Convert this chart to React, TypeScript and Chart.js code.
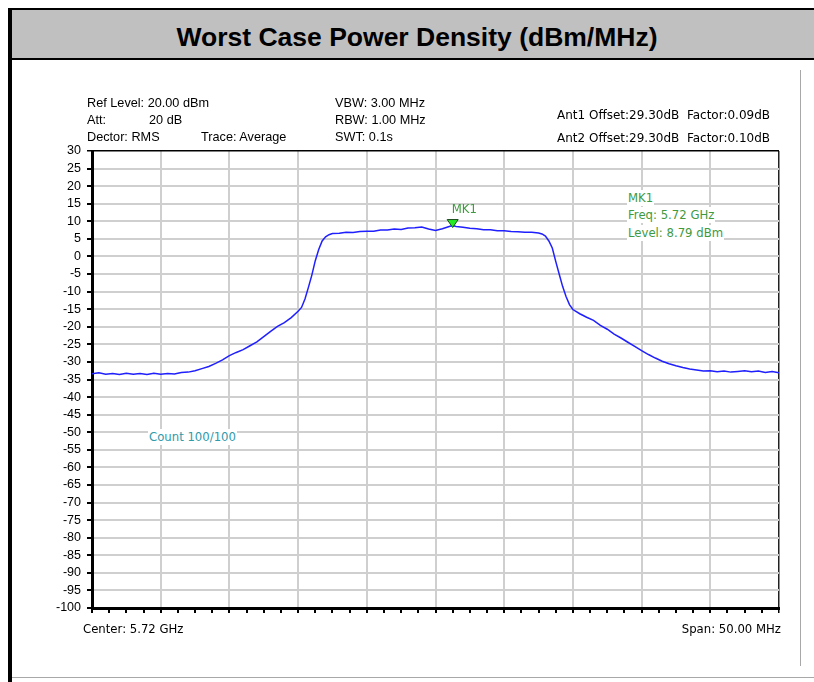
import React, { useEffect, useRef } from "react";
import { Chart, registerables } from "chart.js";

Chart.register(...registerables);

// ---- data -------------------------------------------------------------
const TITLE = "Worst Case Power Density (dBm/MHz)";
const CENTER_GHZ = 5.72;
const SPAN_MHZ = 50;
const Y_MIN = -100;
const Y_MAX = 30;
const Y_STEP = 5;

// frequency offset from centre (MHz)
const FREQ_OFFSET_MHZ = [
  -25, -24.5, -24, -23.5, -23, -22.5, -22, -21.5, -21, -20.5, -20, -19.5, -19, -18.5, -18,
  -17.5, -17, -16.5, -16, -15.5, -15, -14.5, -14, -13.5, -13, -12.5, -12, -11.5, -11, -10.5,
  -10, -9.75, -9.5, -9.25, -9, -8.75, -8.5, -8.25, -8, -7.75, -7.5, -7, -6.5, -6, -5.5, -5,
  -4.5, -4, -3.5, -3, -2.5, -2, -1.5, -1, -0.5, 0, 0.5, 1, 1.25, 1.5, 2, 2.5, 3, 3.5, 4, 4.5,
  5, 5.5, 6, 6.5, 7, 7.5, 7.75, 8, 8.25, 8.5, 8.75, 9, 9.25, 9.5, 9.75, 10, 10.5, 11, 11.5,
  12, 12.5, 13, 13.5, 14, 14.5, 15, 15.5, 16, 16.5, 17, 17.5, 18, 18.5, 19, 19.5, 20, 20.5,
  21, 21.5, 22, 22.5, 23, 23.5, 24, 24.5, 25,
];

// trace level (dBm)
const LEVEL_DBM = [
  -33.4, -33.1, -33.5, -33.3, -33.6, -33.2, -33.5, -33.3, -33.6, -33.2, -33.5, -33.3, -33.4, -33.0, -32.9,
  -32.5, -31.9, -31.3, -30.4, -29.4, -28.2, -27.3, -26.5, -25.4, -24.3, -22.8, -21.3, -19.9, -18.8, -17.4,
  -15.6, -14.5, -12.1, -8.8, -5.3, -1.2, 2.0, 4.4, 5.6, 6.2, 6.5, 6.6, 6.9, 6.8, 7.1, 7.2,
  7.2, 7.5, 7.5, 7.8, 7.7, 8.1, 8.2, 8.4, 7.8, 7.4, 7.9, 8.5, 8.79, 8.5, 8.3, 8.0, 7.9, 7.6, 7.6, 7.3,
  7.3, 7.1, 7.0, 6.9, 6.9, 6.7, 6.4, 5.8, 4.4, 2.4, -1.4, -5.0, -8.5, -11.4, -13.7, -15.1, -16.3, -17.3, -18.2,
  -19.6, -20.7, -22.1, -23.2, -24.4, -25.6, -26.8, -27.9, -28.9, -29.8, -30.5, -31.1, -31.6, -32.0, -32.3, -32.6, -32.5, -32.8,
  -32.6, -32.9, -32.7, -32.5, -32.8, -32.6, -33.0, -32.7, -33.1,
];

const MARKER_NAME = "MK1";
const MARKER_OFFSET_MHZ = 1.25;
const MARKER_LEVEL_DBM = 8.79;

const INFO_LEFT = ["Ref Level: 20.00 dBm", "Att:", "Dector: RMS"];
const INFO_LEFT2 = ["", "20 dB", "Trace: Average"];
const INFO_MID = ["VBW: 3.00 MHz", "RBW: 1.00 MHz", "SWT: 0.1s"];
const INFO_RIGHT = ["Ant1 Offset:29.30dB  Factor:0.09dB", "Ant2 Offset:29.30dB  Factor:0.10dB"];
const COUNT_TEXT = "Count 100/100";

// ---- styles -----------------------------------------------------------
const ARIAL = '"Liberation Sans", Arial, sans-serif';
const TAHOMA = '"DejaVu Sans", Tahoma, sans-serif';
const GREEN = "#3f9a3f";
const SMALL = 11.7;

const txt = (
  left: number,
  cy: number,
  text: string,
  font: string,
  size: number,
  color = "#000",
  bg?: string,
  right?: boolean
): React.ReactElement => (
  <div
    key={`${left}-${cy}-${text}`}
    style={{
      position: "absolute",
      ...(right ? { right: 814 - left } : { left }),
      top: cy - 8,
      height: 16,
      lineHeight: "16px",
      fontFamily: font,
      fontSize: size,
      color,
      whiteSpace: "pre",
      background: bg,
      padding: bg ? "0 1px" : undefined,
      marginLeft: bg && !right ? -1 : undefined,
    }}
  >
    {text}
  </div>
);

export default function App() {
  const canvasRef = useRef<HTMLCanvasElement | null>(null);

  useEffect(() => {
    const canvas = canvasRef.current;
    if (!canvas) return;

    const markerPlugin = {
      id: "marker",
      afterDatasetsDraw(chart: any) {
        const { ctx, scales } = chart;
        const px = scales.x.getPixelForValue(MARKER_OFFSET_MHZ);
        const py = scales.y.getPixelForValue(MARKER_LEVEL_DBM);
        ctx.save();
        ctx.beginPath();
        ctx.moveTo(px, py + 2);
        ctx.lineTo(px - 5.5, py - 6);
        ctx.lineTo(px + 5.5, py - 6);
        ctx.closePath();
        ctx.fillStyle = "#22ee22";
        ctx.fill();
        ctx.strokeStyle = "#1a4a1a";
        ctx.lineWidth = 1;
        ctx.stroke();
        ctx.font = `${SMALL}px ${TAHOMA}`;
        ctx.fillStyle = GREEN;
        ctx.textAlign = "left";
        ctx.textBaseline = "middle";
        ctx.fillText(MARKER_NAME, px - 1, py - 16);
        ctx.restore();
      },
    };

    const chart = new Chart(canvas, {
      type: "line",
      data: {
        datasets: [
          {
            data: FREQ_OFFSET_MHZ.map((f, i) => ({ x: f, y: LEVEL_DBM[i] })),
            borderColor: "#1f1fff",
            borderWidth: 1.5,
            pointRadius: 0,
            tension: 0,
            fill: false,
          },
        ],
      },
      options: {
        responsive: false,
        animation: false,
        devicePixelRatio: 1,
        layout: { padding: { left: 42, right: 35, top: 151, bottom: 54 } },
        plugins: { legend: { display: false }, tooltip: { enabled: false }, title: { display: false } },
        scales: {
          x: {
            type: "linear",
            min: -SPAN_MHZ / 2,
            max: SPAN_MHZ / 2,
            afterFit: (s: any) => {
              s.height = 20;
            },
            ticks: { stepSize: SPAN_MHZ / 40, autoSkip: false, display: false },
            grid: {
              color: (c: any) => {
                const v = c.tick ? c.tick.value : 0;
                if (Math.abs(v - SPAN_MHZ / 2) < 1e-6) return "#222";
                return Math.abs(v / 5 - Math.round(v / 5)) < 1e-6 ? "#cfcfcf" : "rgba(0,0,0,0)";
              },
              lineWidth: (c: any) => {
                const v = c.tick ? c.tick.value : 0;
                return Math.abs(v - SPAN_MHZ / 2) < 1e-6 ? 1.5 : 2;
              },
              tickColor: "#000",
              tickLength: 5,
              drawTicks: true,
            },
            border: { color: "#000", width: 3 },
          },
          y: {
            type: "linear",
            min: Y_MIN,
            max: Y_MAX,
            afterFit: (s: any) => {
              s.width = 50;
            },
            ticks: {
              stepSize: Y_STEP,
              autoSkip: false,
              color: "#000",
              padding: 6,
              font: { family: ARIAL, size: 12.5 },
            },
            grid: {
              color: (c: any) => (c.tick && c.tick.value === Y_MAX ? "#000" : "#cfcfcf"),
              lineWidth: (c: any) => (c.tick && c.tick.value === Y_MAX ? 1.5 : 2),
              tickColor: "#000",
              tickLength: 5,
            },
            border: { color: "#000", width: 3 },
          },
        },
      },
      plugins: [markerPlugin],
    });

    return () => chart.destroy();
  }, []);

  return (
    <div style={{ position: "absolute", left: 0, top: 0, width: 814, height: 682, overflow: "hidden", background: "#fff" }}>
      {/* frame */}
      <div style={{ position: "absolute", left: 8, top: 8, width: 4, height: 674, background: "#000" }} />
      <div style={{ position: "absolute", left: 8, top: 8, width: 820, height: 2, background: "#000" }} />
      <div
        style={{
          position: "absolute",
          left: 12,
          top: 10,
          width: 810,
          height: 48,
          overflow: "hidden",
          background: "#c0c0c0",
          borderBottom: "2px solid #000",
          textAlign: "center",
          lineHeight: "54px",
          fontFamily: ARIAL,
          fontWeight: "bold",
          fontSize: 26.5,
          color: "#000",
        }}
      >
        {TITLE}
      </div>
      <div style={{ position: "absolute", left: 800, top: 70, width: 1, height: 596, background: "#a8a8a8" }} />
      <div style={{ position: "absolute", left: 12, top: 677, width: 810, height: 1, background: "#a8a8a8" }} />

      <canvas ref={canvasRef} width={814} height={682} style={{ position: "absolute", left: 0, top: 0, width: 814, height: 682 }} />

      {/* header info */}
      {INFO_LEFT.map((t, i) => txt(87, 103 + i * 17, t, ARIAL, 12.7))}
      {INFO_LEFT2.map((t, i) => (t ? txt(i === 1 ? 149 : 201, 103 + i * 17, t, ARIAL, 12.7) : null))}
      {INFO_MID.map((t, i) => txt(335, 103 + i * 17, t, ARIAL, 12.7))}
      {INFO_RIGHT.map((t, i) => txt(557, 115 + i * 23, t, TAHOMA, 12))}

      {/* marker info */}
      {txt(628, 198, MARKER_NAME, TAHOMA, SMALL, GREEN, "#fff")}
      {txt(628, 215, `Freq: ${CENTER_GHZ.toFixed(2)} GHz`, TAHOMA, SMALL, GREEN, "#fff")}
      {txt(628, 233, `Level: ${MARKER_LEVEL_DBM.toFixed(2)} dBm`, TAHOMA, SMALL, GREEN, "#fff")}
      {txt(149, 437, COUNT_TEXT, TAHOMA, SMALL, "#2f9aaa", "#fff")}

      {/* bottom */}
      {txt(83, 629, `Center: ${CENTER_GHZ.toFixed(2)} GHz`, TAHOMA, SMALL, "#000")}
      {txt(781, 629, `Span: ${SPAN_MHZ.toFixed(2)} MHz`, TAHOMA, SMALL, "#000", undefined, true)}
    </div>
  );
}
